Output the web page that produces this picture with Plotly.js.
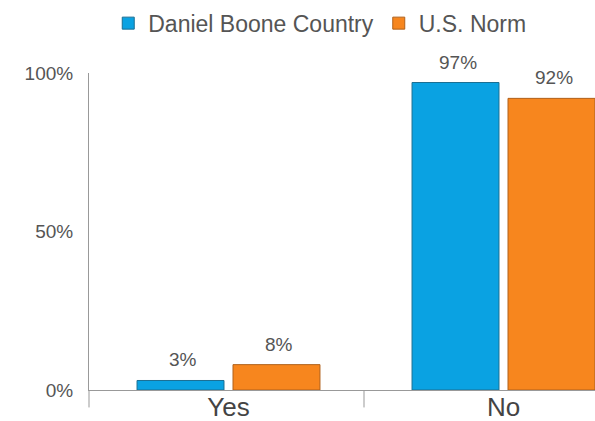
<!DOCTYPE html>
<html>
<head>
<meta charset="utf-8">
<script src="https://cdn.plot.ly/plotly-3.0.1.min.js"></script>
<style>html,body{margin:0;padding:0;background:#fff;}#chart{width:595px;height:421px;}</style>
</head>
<body>
<div id="chart"></div>
<script>
const categories = ["Yes", "No"];
const seriesNames = ["Daniel Boone Country", "U.S. Norm"];
const danielBoone = [3, 97];
const usNorm = [8, 92];
const yTickVals = [0, 50, 100];
const yTickText = ["0%", "50%", "100%"];

const colors = ["#0aa2e2", "#f7861e"];
const lineColors = ["#1b6f93", "#b0601a"];
const values = [danielBoone, usNorm];

const traces = values.map((v, i) => ({
  type: "bar",
  name: seriesNames[i],
  x: categories,
  y: v,
  marker: {color: colors[i], line: {color: lineColors[i], width: 1}},
  hoverinfo: "none"
}));

const annotations = [];
values.forEach((v, i) => {
  v.forEach((d, j) => {
    annotations.push({
      x: categories[j], y: d, xref: "x", yref: "y",
      text: d + "%", showarrow: false,
      xanchor: "center", yanchor: "bottom",
      xshift: (i === 0 ? -46 : 50), yshift: 8,
      font: {family: "Liberation Sans, Arial, sans-serif", size: 19, color: "#555"}
    });
  });
});

const tickShapes = [];
for (let k = 0; k <= categories.length; k++) {
  tickShapes.push({type: "line", xref: "paper", yref: "paper",
    x0: k * 275 / 506, x1: k * 275 / 506, y0: 0, y1: -0.055,
    line: {color: "#999", width: 1}});
}

const layout = {
  width: 595, height: 421,
  margin: {l: 89, r: 0, t: 73, b: 31},
  paper_bgcolor: "#fff", plot_bgcolor: "#fff",
  font: {family: "Liberation Sans, Arial, sans-serif", color: "#555"},
  barmode: "group",
  bargap: 0.302,
  bargroupgap: 0.094,
  showlegend: true,
  legend: {orientation: "h", x: 0.456, xanchor: "center", y: 1.225, yanchor: "top",
    font: {size: 23, color: "#555"}, itemwidth: 30, traceorder: "normal"},
  xaxis: {
    range: [-0.5 - 2 / 275, -0.5 - 2 / 275 + 506 / 275],
    showline: true, linecolor: "#999", linewidth: 1,
    ticks: "", showgrid: false, zeroline: false,
    tickfont: {size: 26, color: "#444"},
    ticklabelstandoff: -6,
    fixedrange: true
  },
  yaxis: {
    range: [0, 100],
    tickvals: yTickVals, ticktext: yTickText,
    showline: true, linecolor: "#999", linewidth: 1,
    showgrid: false, zeroline: false, ticks: "",
    tickfont: {size: 19, color: "#555"},
    ticklabelstandoff: 11,
    fixedrange: true
  },
  annotations: annotations,
  shapes: tickShapes
};

Plotly.newPlot("chart", traces, layout, {displayModeBar: false, staticPlot: true});
</script>
</body>
</html>
